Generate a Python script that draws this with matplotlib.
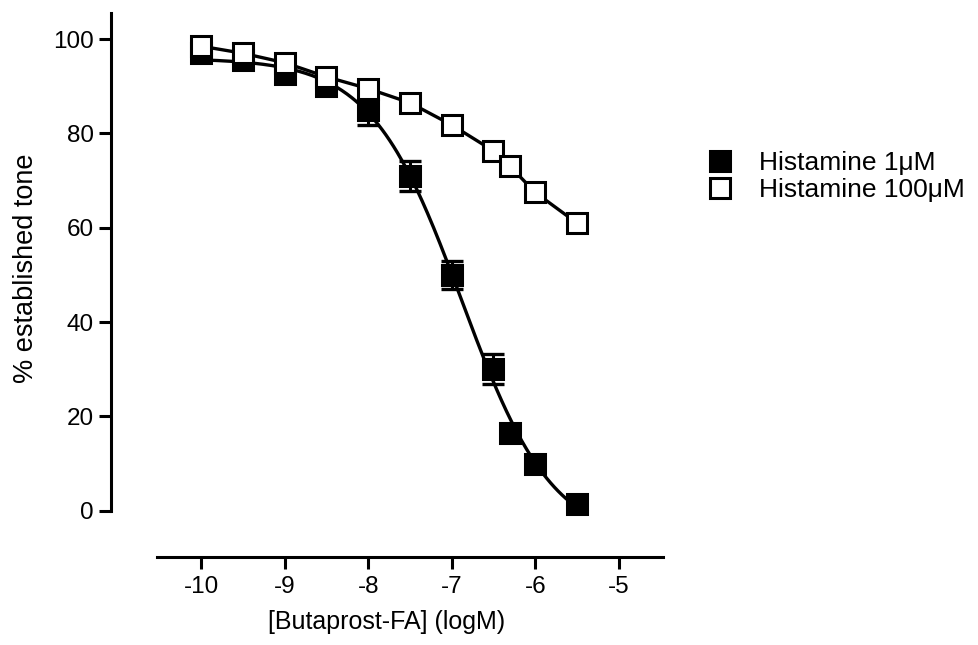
import numpy as np
import matplotlib
matplotlib.use("Agg")
from matplotlib import pyplot as plt
from matplotlib.lines import Line2D

plt.rcParams['font.family'] = ['Liberation Sans', 'DejaVu Sans']
plt.rcParams['axes.unicode_minus'] = False

# log concentration of Butaprost-FA
log_conc = [-10, -9.5, -9, -8.5, -8, -7.5, -7, -6.5, -6.3, -6, -5.5]

# Histamine 1 uM (filled)
tone_1uM = [97, 95.5, 92.5, 90, 85, 71, 50, 30, 16.5, 10, 1.5]
sem_1uM = [1, 1, 1, 1.8, 3.2, 3.2, 3.0, 3.2, 1, 1, 0.5]

# Histamine 100 uM (open)
tone_100uM = [98.5, 97, 95, 92, 89.5, 86.5, 81.8, 76.3, 73, 67.5, 61]
sem_100uM = [0.5, 0.5, 0.5, 0.5, 0.5, 0.5, 0.5, 0.5, 0.5, 1.5, 0.5]

labels = ["Histamine 1\u03bcM", "Histamine 100\u03bcM"]


# four parameter logistic fit (grid over EC50 / slope, top & bottom by least squares)
def fit_logistic(x, y):
    x = np.asarray(x, float)
    y = np.asarray(y, float)
    best = None
    for c in np.linspace(-8.5, -5.5, 301):
        for h in np.linspace(0.3, 3, 271):
            f = 1 / (1 + 10 ** ((x - c) * h))
            A = np.column_stack([1 - f, f])
            coef, *_ = np.linalg.lstsq(A, y, rcond=None)
            err = np.sum((A @ coef - y) ** 2)
            if best is None or err < best[0]:
                best = (err, c, h, coef[0], coef[1])
    _, c, h, bottom, top = best
    return lambda xx: bottom + (top - bottom) / (1 + 10 ** ((xx - c) * h))


curve = fit_logistic(log_conc, tone_1uM)
xs = np.linspace(min(log_conc), max(log_conc), 300)

fig = plt.figure(figsize=(9.79, 6.45), dpi=100)
ax = fig.add_axes([0.1134, 0.1364, 0.5638, 0.8439])

ms = 14.5
mew = 2.2
ax.plot(xs, curve(xs), color="black", lw=2.4, zorder=2)
ax.errorbar(log_conc, tone_1uM, yerr=sem_1uM, fmt="none", ecolor="black",
            elinewidth=2.2, capsize=8, capthick=2.4, zorder=3)
ax.plot(log_conc, tone_1uM, "s", color="black", ms=ms, mew=mew, zorder=4)

ax.plot(log_conc, tone_100uM, color="black", lw=2.4, zorder=2)
ax.errorbar(log_conc, tone_100uM, yerr=sem_100uM, fmt="none", ecolor="black",
            elinewidth=2.2, capsize=8, capthick=2.4, zorder=3)
ax.plot(log_conc, tone_100uM, "s", mfc="white", mec="black", ms=ms, mew=mew, zorder=5)

ax.set_xlim(-11.08, -4.47)
ax.set_ylim(-9.8, 105.6)
ax.spines['top'].set_visible(False)
ax.spines['right'].set_visible(False)
ax.spines['left'].set_bounds(0, 105.6)
ax.spines['bottom'].set_bounds(-10.53, -4.47)
for s in ['left', 'bottom']:
    ax.spines[s].set_linewidth(2.2)

ax.set_xticks([-10, -9, -8, -7, -6, -5])
ax.set_xticklabels(["-10", "-9", "-8", "-7", "-6", "-5"])
ax.set_yticks([0, 20, 40, 60, 80, 100])
ax.tick_params(axis='both', length=8.5, width=2.2, labelsize=17.5, pad=4, direction='out')
ax.tick_params(axis='x', pad=5)

ax.set_xlabel("[Butaprost-FA] (logM)", fontsize=18, labelpad=9)
ax.set_ylabel("% established tone", fontsize=19.5, labelpad=10)
ax.yaxis.label.set_y(0.53)

handles = [
    Line2D([], [], ls="none", marker="s", color="black", ms=ms, mew=mew),
    Line2D([], [], ls="none", marker="s", mfc="white", mec="black", ms=ms, mew=mew),
]
fig.legend(handles, labels, loc="upper left", bbox_to_anchor=(0.711, 0.782),
           frameon=False, fontsize=19, handlelength=1.0, handletextpad=1.0,
           labelspacing=0.12, borderaxespad=0)

fig.savefig("out.png", dpi=100)
